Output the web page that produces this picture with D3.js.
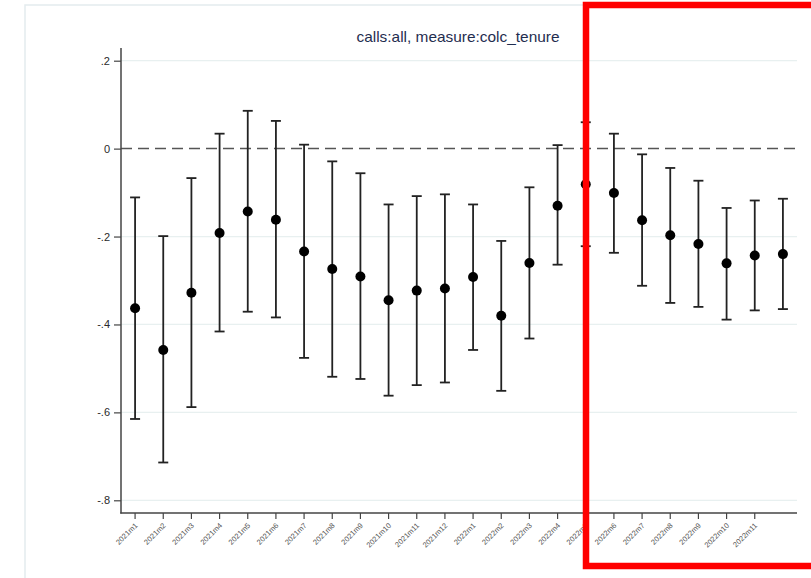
<!DOCTYPE html>
<html>
<head>
<meta charset="utf-8">
<script src="https://cdn.jsdelivr.net/npm/d3@7/dist/d3.min.js"></script>
<style>
  html, body { margin: 0; padding: 0; background: #fff; }
  svg { display: block; font-family: "Liberation Sans", Arial, Helvetica, sans-serif; }
</style>
</head>
<body>
<svg id="chart" width="811" height="578"></svg>
<script>
const categories = ["2021m1","2021m2","2021m3","2021m4","2021m5","2021m6","2021m7","2021m8","2021m9","2021m10","2021m11","2021m12",
                    "2022m1","2022m2","2022m3","2022m4","2022m5","2022m6","2022m7","2022m8","2022m9","2022m10","2022m11","2022m12"];
const tickLabels = ["2021m1","2021m2","2021m3","2021m4","2021m5","2021m6","2021m7","2021m8","2021m9","2021m10","2021m11","2021m12",
                    "2022m1","2022m2","2022m3","2022m4","2022m5","2022m6","2022m7","2022m8","2022m9","2022m10","2022m11"];
const estimates = [-0.363,-0.458,-0.328,-0.192,-0.143,-0.162,-0.234,-0.274,-0.291,-0.345,-0.323,-0.318,
                   -0.292,-0.380,-0.260,-0.130,-0.081,-0.101,-0.163,-0.197,-0.217,-0.261,-0.243,-0.240];
const upper = [-0.111,-0.199,-0.067,0.034,0.086,0.063,0.009,-0.029,-0.056,-0.127,-0.108,-0.104,
               -0.127,-0.210,-0.088,0.008,0.060,0.034,-0.013,-0.044,-0.073,-0.135,-0.118,-0.114];
const lower = [-0.615,-0.714,-0.588,-0.416,-0.371,-0.384,-0.476,-0.519,-0.524,-0.562,-0.538,-0.532,
               -0.458,-0.551,-0.432,-0.264,-0.222,-0.237,-0.312,-0.351,-0.360,-0.389,-0.368,-0.365];
const yTicks = [0.2, 0, -0.2, -0.4, -0.6, -0.8];
const yTickLabels = [".2", "0", "-.2", "-.4", "-.6", "-.8"];
const title = "calls:all, measure:colc_tenure";

const svg = d3.select("#chart");

// outer faint frame
svg.append("rect").attr("x", 25).attr("y", 5).attr("width", 900).attr("height", 700)
  .attr("fill", "none").attr("stroke", "#e4ebee").attr("stroke-width", 1.5);

const plotLeft = 121, plotRight = 797, plotTop = 48, plotBottom = 513;

const x = d3.scaleBand().domain(categories).range([plotLeft, plotRight]);
const y = d3.scaleLinear().domain([-0.8, 0.2]).range([500.3, 60.7]);
const cx = c => x(c) + x.bandwidth() / 2;

// gridlines
svg.append("g").selectAll("line").data(yTicks.filter(v => v !== 0)).join("line")
  .attr("x1", plotLeft).attr("x2", plotRight)
  .attr("y1", d => y(d)).attr("y2", d => y(d))
  .attr("stroke", "#e8f0f0").attr("stroke-width", 1.2);

// zero dashed line
svg.append("line").attr("x1", plotLeft).attr("x2", plotRight)
  .attr("y1", y(0)).attr("y2", y(0))
  .attr("stroke", "#555").attr("stroke-width", 1.5).attr("stroke-dasharray", "11,6");

// y axis
const yAxis = d3.axisLeft(y).tickValues(yTicks)
  .tickFormat((d, i) => yTickLabels[i]).tickSize(7).tickPadding(4);
const gy = svg.append("g").attr("transform", `translate(${plotLeft},0)`).call(yAxis);
gy.select(".domain").remove();
gy.selectAll(".tick line").attr("stroke", "#444").attr("stroke-width", 1.2);
gy.selectAll(".tick text").attr("fill", "#2a2a2a").attr("font-size", 11);
svg.append("line").attr("x1", plotLeft).attr("x2", plotLeft)
  .attr("y1", plotTop).attr("y2", plotBottom + 0.5)
  .attr("stroke", "#444").attr("stroke-width", 1.5);

// x axis
const xAxis = d3.axisBottom(x).tickValues(categories.slice(0, tickLabels.length))
  .tickFormat((d, i) => tickLabels[i]).tickSize(6).tickSizeOuter(0);
const gx = svg.append("g").attr("transform", `translate(0,${plotBottom})`).call(xAxis);
gx.select(".domain").remove();
gx.selectAll(".tick line").attr("stroke", "#444").attr("stroke-width", 1.2);
gx.selectAll(".tick text")
  .attr("fill", "#555").attr("font-size", 7.5)
  .attr("text-anchor", "end")
  .attr("dy", null).attr("y", null)
  .attr("transform", "translate(3,13) rotate(-45)");
svg.append("line").attr("x1", plotLeft - 0.75).attr("x2", plotRight)
  .attr("y1", plotBottom).attr("y2", plotBottom)
  .attr("stroke", "#444").attr("stroke-width", 1.5);

// error bars
const data = categories.map((c, i) => ({ c, est: estimates[i], hi: upper[i], lo: lower[i] }));
const capW = 5;
const bars = svg.append("g").attr("stroke", "#222").attr("stroke-width", 1.8);
bars.selectAll(".v").data(data).join("line").attr("class", "v")
  .attr("x1", d => cx(d.c)).attr("x2", d => cx(d.c))
  .attr("y1", d => y(d.hi)).attr("y2", d => y(d.lo));
bars.selectAll(".t").data(data).join("line").attr("class", "t")
  .attr("x1", d => cx(d.c) - capW).attr("x2", d => cx(d.c) + capW)
  .attr("y1", d => y(d.hi)).attr("y2", d => y(d.hi));
bars.selectAll(".b").data(data).join("line").attr("class", "b")
  .attr("x1", d => cx(d.c) - capW).attr("x2", d => cx(d.c) + capW)
  .attr("y1", d => y(d.lo)).attr("y2", d => y(d.lo));

// points
svg.append("g").selectAll("circle").data(data).join("circle")
  .attr("cx", d => cx(d.c)).attr("cy", d => y(d.est)).attr("r", 5)
  .attr("fill", "#000");

// title
svg.append("text").attr("x", 458).attr("y", 42).attr("text-anchor", "middle")
  .attr("font-size", 15).attr("textLength", 203).attr("lengthAdjust", "spacingAndGlyphs")
  .attr("fill", "#1f2d4f").text(title);

// red highlight box
svg.append("rect").attr("x", 586).attr("y", 5).attr("width", 400).attr("height", 561)
  .attr("fill", "none").attr("stroke", "#ff0000").attr("stroke-width", 6.5);
</script>
</body>
</html>
